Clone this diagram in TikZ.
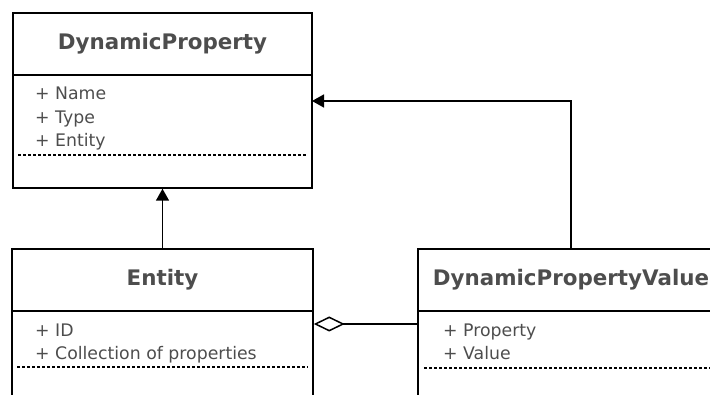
\documentclass[tikz,border=0pt]{standalone}
\usepackage{fontspec}
\setmainfont{DejaVu Sans}
\usetikzlibrary{arrows.meta,positioning}
\definecolor{umltext}{HTML}{4D4D4D}
\tikzset{
    classhead/.style={
    rectangle,draw=black,line width=1.5pt,minimum height=62pt,inner sep=0pt,
    font=\bfseries\fontsize{21.4}{25}\selectfont,text=umltext
    },
    classbody/.style={
    rectangle,draw=black,line width=1.5pt,inner sep=0pt
    },
    attrs/.style={
    anchor=base west,align=left,inner sep=0pt,
    font=\fontsize{17.3}{23.5}\selectfont,text=umltext
    },
    sep/.style={
    dashed,line width=1.2pt,dash pattern=on 3pt off 2pt
    },
    inherit/.style={
    -{Triangle[length=12pt,width=13pt]},line width=1.6pt
    },
    aggr/.style={
    {Diamond[open,length=31pt,width=15pt]}-,line width=1.5pt
    },
}
\begin{document}
\begin{tikzpicture}[x=1pt,y=-1pt]
  \useasboundingbox (0,0) rectangle (710,395);
  \clip (0,0) rectangle (710,395);
  % DynamicProperty
  \node[classhead,minimum width=299pt] (dp) at (162.5,44) {DynamicProperty};
  \node[classbody,minimum width=299pt,minimum height=113pt] (dpbody) at (162.5,131.5) {};
  \node[attrs] (dpattr) at (35,147) {+ Name\\+ Type\\+ Entity};
  \draw[sep] (18,155) -- (306,155);
  % Entity
  \node[classhead,minimum width=301pt] (ent) at (162.5,280) {Entity};
  \node[classbody,minimum width=301pt,minimum height=100pt] (entbody) at (162.5,361) {};
  \node[attrs] (entattr) at (35,360) {+ ID\\+ Collection of properties};
  \draw[sep] (17,367) -- (308,367);
  % DynamicPropertyValue
  \node[classhead,minimum width=306pt] (dpv) at (571,280) {DynamicPropertyValue};
  \node[classbody,minimum width=306pt,minimum height=100pt] (dpvbody) at (571,361) {};
  \node[attrs] (dpvattr) at (443,359.5) {+ Property\\+ Value};
  \draw[sep] (424,368) -- (715,368);

  \coordinate (dpin) at (312,101);
  \coordinate (aggin) at (418,324);
  \draw[inherit] (ent.north) -- (dpbody.south);
  \draw[inherit] (dpv.north) |- (dpin);
  \draw[aggr] (entbody.east |- aggin) -- (aggin);
\end{tikzpicture}
\end{document}
